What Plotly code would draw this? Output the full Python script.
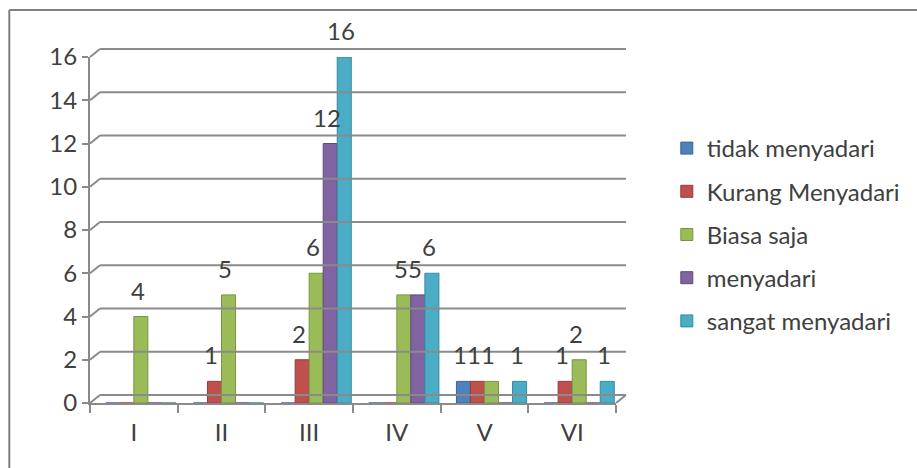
import plotly.graph_objects as go

categories = ["I", "II", "III", "IV", "V", "VI"]
series_names = ["tidak menyadari", "Kurang Menyadari", "Biasa saja", "menyadari", "sangat menyadari"]
tidak_menyadari = [0, 0, 0, 0, 1, 0]
kurang_menyadari = [0, 1, 2, 0, 1, 1]
biasa_saja = [4, 5, 6, 5, 1, 2]
menyadari = [0, 0, 12, 5, 0, 0]
sangat_menyadari = [0, 0, 16, 6, 1, 1]
y_ticks = [0, 2, 4, 6, 8, 10, 12, 14, 16]

series_values = [tidak_menyadari, kurang_menyadari, biasa_saja, menyadari, sangat_menyadari]
colors = ["#4F81BD", "#C0504D", "#9BBB59", "#8064A2", "#4BACC6"]
line_colors = ["#3A6594", "#963B38", "#779440", "#5F4A7A", "#358AA1"]

FONT = "Lato"
TXT = "#404040"
GRID = "#8A8A8A"

W, H = 917, 468
ML, MR, MT, MB = 90, 299, 57, 65
PW = W - ML - MR
PH = H - MT - MB
DX, DY = 10, 8  # depth offset of back wall

bar_w = 0.16
offsets = [-0.32 + i * bar_w for i in range(5)]

fig = go.Figure()
for i, name in enumerate(series_names):
    fig.add_trace(go.Bar(
        x=categories, y=series_values[i], name=name,
        width=bar_w, offset=offsets[i],
        marker=dict(color=colors[i], line=dict(color=line_colors[i], width=1)),
        legendgroup=name,
    ))

ymax = y_ticks[-1]
def py(v, extra_px=0):
    return (v / ymax * PH + extra_px) / PH
def px(p):
    return (p - ML) / PW

shapes = []
for v in y_ticks:
    shapes.append(dict(type="line", xref="paper", yref="paper",
                       x0=px(ML + DX), x1=px(ML + PW + DX), y0=py(v, DY), y1=py(v, DY),
                       line=dict(color=GRID, width=2)))
    shapes.append(dict(type="line", xref="paper", yref="paper",
                       x0=0, x1=px(ML + DX), y0=py(v), y1=py(v, DY),
                       line=dict(color=GRID, width=2)))
shapes.append(dict(type="line", xref="paper", yref="paper",
                   x0=1, x1=px(ML + PW + DX), y0=0, y1=py(0, DY),
                   line=dict(color=GRID, width=2)))
shapes.append(dict(type="line", xref="paper", yref="paper",
                   x0=px(9), x1=px(W + 5), y0=(H - MB - 10) / PH, y1=(H - MB - 10) / PH,
                   line=dict(color="#7F7F7F", width=2)))
shapes.append(dict(type="line", xref="paper", yref="paper",
                   x0=px(9), x1=px(9), y0=(H - MB - 10) / PH, y1=-0.3,
                   line=dict(color="#7F7F7F", width=2)))

annotations = []
for i in range(5):
    for j, v in enumerate(series_values[i]):
        if v > 0:
            annotations.append(dict(
                x=j + offsets[i] + bar_w / 2 - 0.035, y=v, xref="x", yref="y",
                text=str(v), showarrow=False, yanchor="bottom", yshift=10,
                font=dict(family=FONT, size=24, color=TXT)))

fig.update_layout(
    width=W, height=H,
    margin=dict(l=ML, r=MR, t=MT, b=MB),
    paper_bgcolor="white", plot_bgcolor="white",
    barmode="overlay",
    font=dict(family=FONT, size=24, color=TXT),
    showlegend=True,
    legend=dict(x=px(669), xanchor="left", y=py(0, 403 - 126), yanchor="top",
                font=dict(family=FONT, size=24, color=TXT),
                tracegroupgap=9, itemwidth=30, bgcolor="rgba(0,0,0,0)"),
    shapes=shapes,
    annotations=annotations,
    xaxis=dict(type="category", range=[-0.5, 5.5], showgrid=False,
               showline=True, linecolor=GRID, linewidth=2,
               ticks="outside", ticklen=8, tickcolor=GRID, tickwidth=2,
               tickson="boundaries", ticklabelstandoff=7,
               tickfont=dict(family=FONT, size=24, color=TXT)),
    yaxis=dict(range=[0, ymax], tickvals=y_ticks, showgrid=False, zeroline=False,
               showline=True, linecolor=GRID, linewidth=2,
               ticks="outside", ticklen=6, tickcolor=GRID, tickwidth=2,
               tickfont=dict(family=FONT, size=24, color=TXT)),
)

fig.write_html("out.html")
